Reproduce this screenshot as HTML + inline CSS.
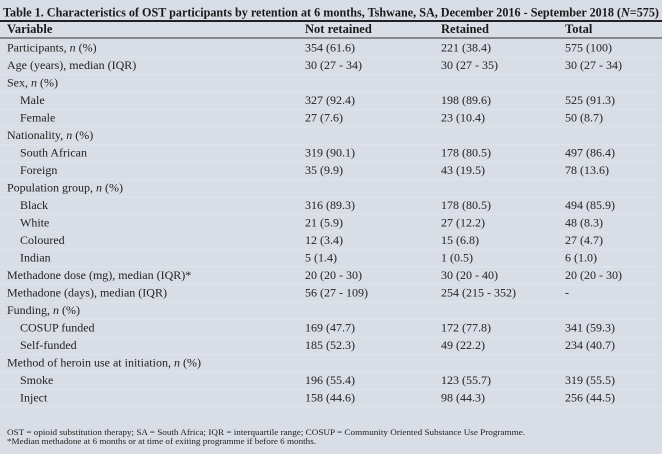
<!DOCTYPE html>
<html><head><meta charset="utf-8"><style>
html,body{margin:0;padding:0;background:#d9dde5;}
svg{display:block;font-family:"Liberation Serif",serif;}
</style></head><body>
<svg width="662" height="454" viewBox="0 0 662 454">
<rect x="0" y="0" width="662" height="454" fill="#d9dde5"/>
<text x="3" y="16.5" font-size="13" font-weight="bold" fill="#1a1a1a" textLength="656" lengthAdjust="spacingAndGlyphs">Table 1. Characteristics of OST participants by retention at 6 months, Tshwane, SA, December 2016 - September 2018 (<tspan font-style="italic">N</tspan>=575)</text>
<rect x="0" y="20" width="662" height="2" fill="#222"/>
<g font-size="12.5" font-weight="bold" fill="#1a1a1a">
<text x="7" y="33">Variable</text>
<text x="305" y="33">Not retained</text>
<text x="441" y="33">Retained</text>
<text x="565" y="33">Total</text>
</g>
<rect x="0" y="37.5" width="662" height="1" fill="#333"/>
<g id="rows" font-size="12" fill="#222"></g>
<text x="7" y="435" font-size="8.5" fill="#222" textLength="518" lengthAdjust="spacingAndGlyphs">OST = opioid substitution therapy; SA = South Africa; IQR = interquartile range; COSUP = Community Oriented Substance Use Programme.</text>
<text x="7" y="444" font-size="8.5" fill="#222" textLength="309" lengthAdjust="spacingAndGlyphs">*Median methadone at 6 months or at time of exiting programme if before 6 months.</text>
</svg>
<script>
const labels=[["Participants, <i>n</i> (%)",0],["Age (years), median (IQR)",0],["Sex, <i>n</i> (%)",0],["Male",1],["Female",1],["Nationality, <i>n</i> (%)",0],["South African",1],["Foreign",1],["Population group, <i>n</i> (%)",0],["Black",1],["White",1],["Coloured",1],["Indian",1],["Methadone dose (mg), median (IQR)*",0],["Methadone (days), median (IQR)",0],["Funding, <i>n</i> (%)",0],["COSUP funded",1],["Self-funded",1],["Method of heroin use at initiation, <i>n</i> (%)",0],["Smoke",1],["Inject",1]];
const notRetained=["354 (61.6)","30 (27 - 34)","","327 (92.4)","27 (7.6)","","319 (90.1)","35 (9.9)","","316 (89.3)","21 (5.9)","12 (3.4)","5 (1.4)","20 (20 - 30)","56 (27 - 109)","","169 (47.7)","185 (52.3)","","196 (55.4)","158 (44.6)"];
const retained=["221 (38.4)","30 (27 - 35)","","198 (89.6)","23 (10.4)","","178 (80.5)","43 (19.5)","","178 (80.5)","27 (12.2)","15 (6.8)","1 (0.5)","30 (20 - 40)","254 (215 - 352)","","172 (77.8)","49 (22.2)","","123 (55.7)","98 (44.3)"];
const totals=["575 (100)","30 (27 - 34)","","525 (91.3)","50 (8.7)","","497 (86.4)","78 (13.6)","","494 (85.9)","48 (8.3)","27 (4.7)","6 (1.0)","20 (20 - 30)","-","","341 (59.3)","234 (40.7)","","319 (55.5)","256 (44.5)"];
const NS="http://www.w3.org/2000/svg";
const g=document.getElementById('rows');
function slug(s){return s.replace(/<[^>]+>/g,'').toLowerCase().replace(/[^a-z0-9]+/g,'-').replace(/^-|-$/g,'');}
labels.forEach((l,i)=>{
  const y=51.7+i*17.5;
  const sep=document.createElementNS(NS,'rect');
  sep.setAttribute('x',0);sep.setAttribute('y',y+5);sep.setAttribute('width',662);sep.setAttribute('height',0.6);sep.setAttribute('fill','#e3e6ec');
  
  
  g.appendChild(sep);
  const t=document.createElementNS(NS,'text');
  t.setAttribute('x',l[1]?20:7);t.setAttribute('y',y);
  t.innerHTML=l[0].replace(/<i>/g,'<tspan font-style="italic">').replace(/<\/i>/g,'</tspan>');
  
  
  g.appendChild(t);
  [[notRetained,305,'not-retained'],[retained,441,'retained'],[totals,565,'total']].forEach(c=>{
    if(!c[0][i])return;
    const v=document.createElementNS(NS,'text');
    v.setAttribute('x',c[1]);v.setAttribute('y',y);v.textContent=c[0][i];
    
    
    g.appendChild(v);
  });
});
</script>
</body></html>
